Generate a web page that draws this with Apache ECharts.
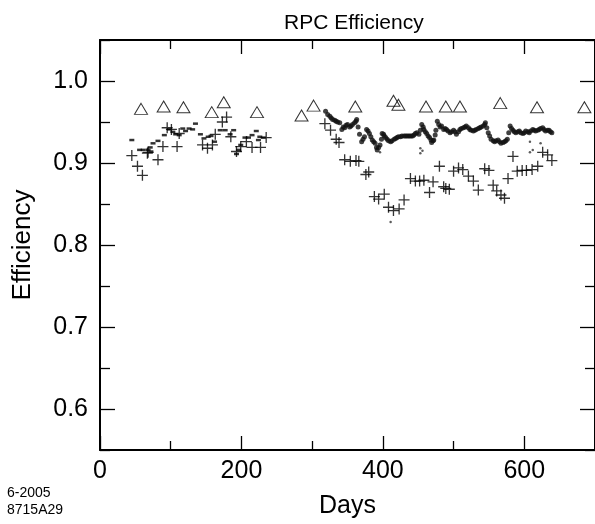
<!DOCTYPE html>
<html>
<head>
<meta charset="utf-8">
<script src="https://cdn.jsdelivr.net/npm/echarts@6/dist/echarts.min.js"></script>
<style>
  html, body { margin: 0; padding: 0; background: #fff; }
  #chart { width: 595px; height: 524px; }
</style>
</head>
<body>
<div id="chart"></div>
<script>
// axis labels
var xLabelTicks = [0, 200, 400, 600];
var yLabelTicks = [0.6, 0.7, 0.8, 0.9, 1.0];

// triangles
var triDays = [58, 90, 118, 158, 175, 222, 285, 302, 361, 415, 422, 461, 489, 509, 566, 618, 685];
var triEff = [0.966, 0.969, 0.968, 0.962, 0.974, 0.962, 0.958, 0.970, 0.969, 0.976, 0.971, 0.969, 0.969, 0.969, 0.973, 0.968, 0.968];

// crosses
var plusDays = [45, 53, 60, 67, 68, 82, 89, 95, 101, 109, 112, 145, 152, 159, 163, 173, 179, 185, 193, 199, 207, 215, 227, 235,
  318, 326, 334, 338, 346, 354, 362, 366, 376, 380, 388, 394, 402, 408, 415, 423, 430, 439, 446, 452, 458, 466, 471, 480, 486,
  489, 494, 500, 507, 513, 521, 528, 535, 544, 550, 556, 561, 567, 572, 577, 584, 590, 597, 603, 611, 619, 626, 633, 639];
var plusEff = [0.909, 0.896, 0.885, 0.912, 0.913, 0.904, 0.920, 0.943, 0.941, 0.920, 0.936, 0.922, 0.918, 0.922, 0.935, 0.950, 0.956, 0.932, 0.914, 0.920, 0.926, 0.919, 0.919, 0.931,
  0.948, 0.940, 0.929, 0.925, 0.904, 0.902, 0.903, 0.902, 0.886, 0.889, 0.859, 0.856, 0.862, 0.846, 0.842, 0.844, 0.855, 0.881, 0.878, 0.878, 0.879, 0.864, 0.877, 0.896, 0.871,
  0.869, 0.868, 0.890, 0.894, 0.892, 0.884, 0.878, 0.867, 0.893, 0.891, 0.873, 0.866, 0.861, 0.857, 0.881, 0.908, 0.890, 0.891, 0.891, 0.892, 0.896, 0.913, 0.910, 0.903];

// early period, short dashes
var dashDays = [45, 56, 61, 68, 71, 72, 75, 82, 91, 98, 103, 107, 112, 117, 121, 126, 131, 135, 142, 147, 153, 157, 162, 170, 177,
  184, 189, 193, 196, 199, 205, 210, 215, 221, 224, 226, 231];
var dashEff = [0.928, 0.916, 0.916, 0.916, 0.919, 0.914, 0.924, 0.927, 0.934, 0.941, 0.938, 0.935, 0.934, 0.942, 0.939, 0.942, 0.941, 0.948, 0.935, 0.930, 0.932, 0.933, 0.926, 0.940, 0.940,
  0.935, 0.940, 0.911, 0.916, 0.922, 0.931, 0.931, 0.934, 0.939, 0.928, 0.932, 0.931];

// later period, dense daily points
var dotDays = [319, 322, 325, 327, 329, 332, 334, 336, 339, 342, 344, 346, 348, 350, 353, 355, 357, 360, 362, 363, 365, 367, 370, 372,
  374, 377, 379, 381, 383, 385, 387, 389, 391, 392, 394, 396, 398, 399, 401, 402, 404, 406, 408, 411, 413, 416, 418, 420, 422, 425,
  427, 430, 432, 434, 436, 438, 440, 442, 444, 446, 448, 451, 453, 455, 457, 458, 460, 462, 464, 466, 468, 469, 471, 472, 474, 475,
  477, 479, 481, 483, 486, 488, 490, 492, 495, 497, 500, 502, 504, 507, 509, 511, 514, 516, 518, 521, 523, 525, 528, 530, 532, 535,
  537, 539, 542, 544, 545, 547, 549, 551, 553, 556, 558, 560, 563, 565, 567, 570, 572, 574, 576, 578, 580, 582, 584, 586, 588, 591,
  593, 595, 598, 600, 602, 605, 607, 609, 612, 614, 616, 619, 621, 623, 626, 628, 630, 633, 635, 637, 639];
var dotEff = [0.963, 0.959, 0.957, 0.955, 0.953, 0.952, 0.951, 0.950, 0.949, 0.941, 0.944, 0.943, 0.946, 0.947, 0.944, 0.945, 0.947, 0.949, 0.951, 0.953, 0.944, 0.935, 0.926, 0.929,
  0.932, 0.941, 0.939, 0.936, 0.932, 0.928, 0.926, 0.924, 0.919, 0.916, 0.919, 0.922, 0.929, 0.936, 0.935, 0.933, 0.931, 0.929, 0.927, 0.926, 0.927, 0.929, 0.930, 0.931, 0.932, 0.932,
  0.933, 0.933, 0.933, 0.933, 0.933, 0.933, 0.933, 0.933, 0.934, 0.936, 0.937, 0.935, 0.940, 0.947, 0.944, 0.941, 0.938, 0.936, 0.933, 0.931, 0.928, 0.925, 0.927, 0.928, 0.934, 0.940,
  0.951, 0.947, 0.944, 0.945, 0.941, 0.942, 0.941, 0.939, 0.937, 0.938, 0.940, 0.938, 0.935, 0.938, 0.941, 0.942, 0.943, 0.944, 0.945, 0.943, 0.941, 0.940, 0.939, 0.940, 0.941, 0.942,
  0.943, 0.944, 0.945, 0.947, 0.949, 0.943, 0.937, 0.933, 0.929, 0.927, 0.926, 0.927, 0.928, 0.926, 0.924, 0.925, 0.926, 0.927, 0.929, 0.937, 0.945, 0.942, 0.940, 0.938, 0.937, 0.938,
  0.939, 0.937, 0.936, 0.937, 0.939, 0.938, 0.937, 0.939, 0.941, 0.940, 0.939, 0.940, 0.941, 0.942, 0.943, 0.941, 0.939, 0.940, 0.940, 0.938, 0.937];

// stray points off the band
var strayDays = [396, 411, 453, 453, 456, 608, 608, 612, 623];
var strayEff = [0.913, 0.828, 0.918, 0.912, 0.915, 0.926, 0.913, 0.916, 0.924];

function pairs(xs, ys) {
  var out = [];
  for (var i = 0; i < xs.length; i++) out.push([xs[i], ys[i]]);
  return out;
}

var font = 'Liberation Sans, Arial, Helvetica, sans-serif';
var plusPath = 'path://M4.4,0H5.6V4.4H10V5.6H5.6V10H4.4V5.6H0V4.4H4.4Z';
var tickStyle = { color: '#000', width: 1.3 };

// x: ticks every 200 from 0 (long), minor ticks halfway (short)
function xAxisOn(pos, extra) {
  var a = {
    type: 'value', position: pos, min: 0, max: 700, interval: 200,
    axisLine: { show: true, onZero: false, lineStyle: { color: '#000', width: 2 } },
    splitLine: { show: false }, axisLabel: { show: false },
    axisTick: { inside: true, length: 14, lineStyle: tickStyle },
    minorTick: { show: true, splitNumber: 2, length: 9, lineStyle: tickStyle }
  };
  return Object.assign(a, extra || {});
}
// y: ticks every 0.1 from 0.55 are the short ones, the minor ticks between them land on 0.6, 0.7 ... (long)
// onZero off, otherwise the right axis jumps onto x = 0
function yAxisOn(pos, extra) {
  var a = {
    type: 'value', position: pos, min: 0.55, max: 1.05, interval: 0.1,
    axisLine: { show: true, onZero: false, lineStyle: { color: '#000', width: 2 } },
    splitLine: { show: false }, axisLabel: { show: false },
    axisTick: { inside: true, length: 10, lineStyle: tickStyle },
    minorTick: { show: true, splitNumber: 2, length: 15, lineStyle: tickStyle }
  };
  return Object.assign(a, extra || {});
}

var chart = echarts.init(document.getElementById('chart'));

var option = {
  backgroundColor: '#fff',
  animation: false,
  title: {
    text: 'RPC Efficiency',
    left: 279,
    top: 8,
    textStyle: { fontFamily: font, fontSize: 21, fontWeight: 'normal', color: '#000' }
  },
  grid: { left: 100, right: -5, top: 40, bottom: 72 },
  xAxis: [
    xAxisOn('bottom', {
      name: 'Days', nameLocation: 'middle', nameGap: 44,
      nameTextStyle: { fontFamily: font, fontSize: 25, color: '#000' },
      axisLabel: { show: true, customValues: xLabelTicks, margin: 9, fontFamily: font, fontSize: 25, color: '#000' }
    }),
    xAxisOn('top')
  ],
  yAxis: [
    yAxisOn('left', {
      name: 'Efficiency', nameLocation: 'middle', nameGap: 64, nameRotate: 90,
      nameTextStyle: { fontFamily: font, fontSize: 26, color: '#000' },
      axisLabel: {
        show: true, customValues: yLabelTicks, margin: 12, fontFamily: font, fontSize: 25, color: '#000',
        formatter: function (v) { return v.toFixed(1); }
      }
    }),
    yAxisOn('right')
  ],
  graphic: [
    { type: 'text', left: 7, top: 486, style: { text: '6-2005', font: '14px ' + font, fill: '#000' } },
    { type: 'text', left: 7, top: 503, style: { text: '8715A29', font: '14px ' + font, fill: '#000' } }
  ],
  series: [
    {
      name: 'dense', type: 'scatter', data: pairs(dotDays, dotEff),
      symbol: 'circle', symbolSize: 5, itemStyle: { color: '#111' }
    },
    {
      name: 'stray', type: 'scatter', data: pairs(strayDays, strayEff),
      symbol: 'circle', symbolSize: 2.5, itemStyle: { color: '#333' }
    },
    {
      name: 'dash', type: 'scatter', data: pairs(dashDays, dashEff),
      symbol: 'rect', symbolSize: [5, 2.5], itemStyle: { color: '#000' }
    },
    {
      name: 'plus', type: 'scatter', data: pairs(plusDays, plusEff),
      symbol: plusPath, symbolSize: 11, itemStyle: { color: '#000' }
    },
    {
      name: 'triangle', type: 'scatter', data: pairs(triDays, triEff),
      symbol: 'triangle', symbolSize: [13, 11],
      itemStyle: { color: 'rgba(0,0,0,0)', borderColor: '#000', borderWidth: 1 }
    }
  ]
};

chart.setOption(option);
</script>
</body>
</html>
